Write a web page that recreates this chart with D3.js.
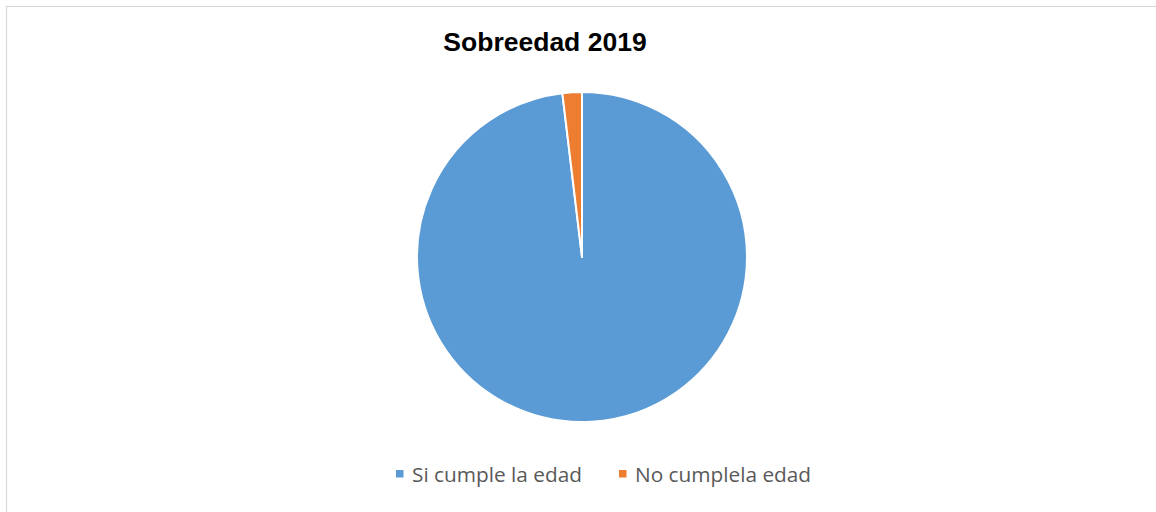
<!DOCTYPE html>
<html><head><meta charset="utf-8">
<script src="https://cdn.jsdelivr.net/npm/d3@7"></script>
<style>body{margin:0;background:#fff}svg{display:block}</style>
</head><body>
<svg id="c" width="1156" height="512"></svg>
<script>
const title = "Sobreedad 2019";
const categories = ["Si cumple la edad", "No cumplela edad"];
const values = [98.1, 1.9];
const colors = ["#5B9BD5", "#ED7D31"];

const svg = d3.select("#c");
svg.append("rect").attr("x", 6.5).attr("y", 6.5).attr("width", 1160).attr("height", 520)
  .attr("fill", "#fff").attr("stroke", "#d9d9d9").attr("stroke-width", 1.2);

svg.append("text").attr("x", 545).attr("y", 51).attr("text-anchor", "middle")
  .attr("font-family", "Liberation Sans, Arial, sans-serif").attr("font-weight", "bold")
  .attr("font-size", 26.5).attr("fill", "#000").text(title);

const cx = 582, cy = 257, r = 165;
const pie = d3.pie().sort(null).value(d => d.v);
const data = categories.map((c, i) => ({c, v: values[i], col: colors[i]}));
const arc = d3.arc().innerRadius(0).outerRadius(r);
svg.append("g").attr("transform", `translate(${cx},${cy})`)
  .selectAll("path").data(pie(data)).join("path")
  .attr("d", arc).attr("fill", d => d.data.col)
  .attr("stroke", "#fff").attr("stroke-width", 2).attr("stroke-linejoin", "round");

const legX = [396, 619];
const lg = svg.append("g");
data.forEach((d, i) => {
  lg.append("rect").attr("x", legX[i]).attr("y", 470).attr("width", 7.5).attr("height", 7.5).attr("fill", d.col);
  lg.append("text").attr("x", legX[i] + 16).attr("y", 482)
    .attr("font-family", "Open Sans, sans-serif").attr("font-size", 20.8)
    .attr("fill", "#595959").text(d.c);
});
</script>
</body></html>
